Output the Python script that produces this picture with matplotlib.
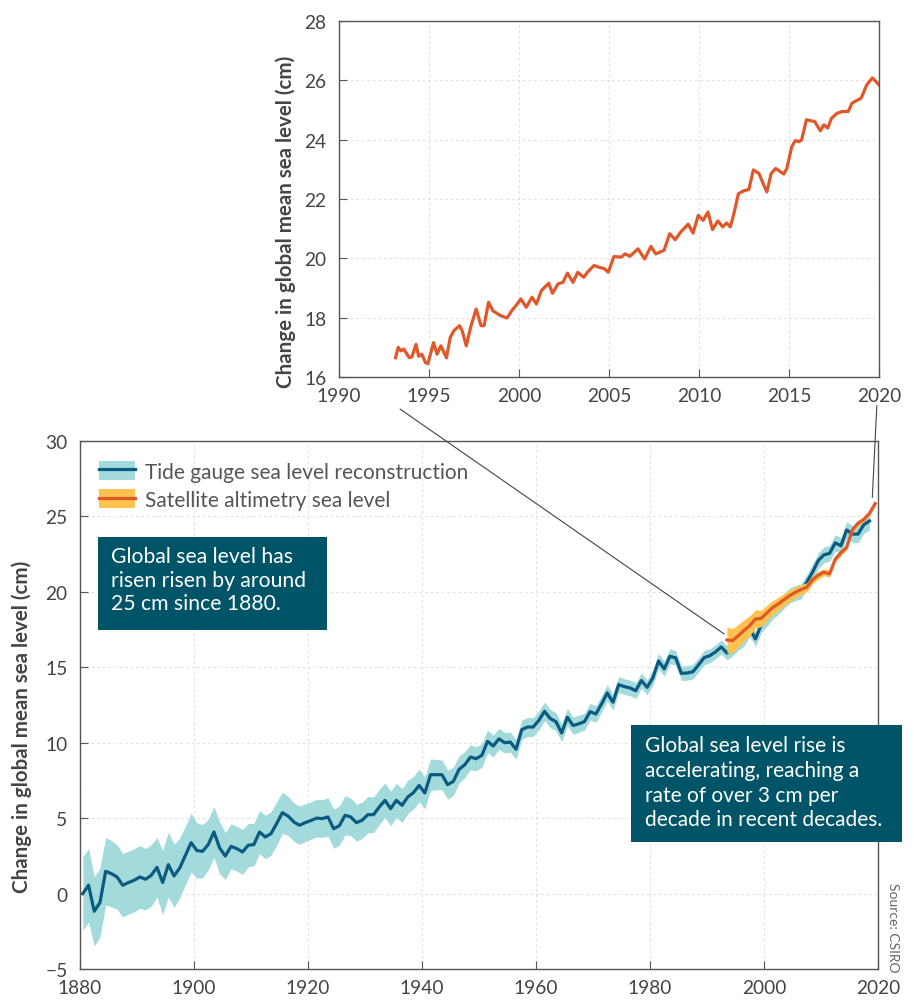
import numpy as np
import matplotlib
matplotlib.use("Agg")
import matplotlib.pyplot as plt
from matplotlib.patches import Patch, Rectangle, ConnectionPatch
from matplotlib.lines import Line2D

plt.rcParams['font.family'] = ['Lato', 'DejaVu Sans']

# tide gauge reconstruction, annual means (cm), 1880-2018
tide_years = np.arange(1880, 2019)
tide_level = [
    0.0, 0.55, -1.17, -0.6, 1.48, 1.32, 1.1, 0.55, 0.73, 0.88,
    1.1, 0.95, 1.21, 1.74, 0.73, 1.92, 1.17, 1.7, 2.54, 3.38,
    2.85, 2.8, 3.25, 4.08, 3.02, 2.49, 3.13, 2.98, 2.76, 3.2,
    3.25, 4.08, 3.75, 3.97, 4.64, 5.36, 5.14, 4.75, 4.53, 4.7,
    4.84, 5.0, 4.97, 5.08, 4.3, 4.5, 5.19, 5.08, 4.7, 4.86,
    5.23, 5.23, 5.74, 6.18, 5.63, 6.18, 5.85, 6.4, 6.69, 7.17,
    6.67, 7.88, 7.88, 7.88, 7.22, 7.44, 8.23, 8.54, 9.05, 8.94,
    9.16, 10.09, 9.78, 10.26, 10.0, 10.04, 9.56, 10.86, 11.04, 11.04,
    11.48, 12.08, 11.6, 11.4, 10.65, 11.69, 11.14, 11.25, 11.4, 12.06,
    11.9, 12.57, 13.3, 12.68, 13.85, 13.72, 13.63, 13.45, 14.12, 13.67,
    14.3, 15.42, 14.89, 15.73, 15.63, 14.6, 14.62, 14.7, 15.15, 15.64,
    15.77, 16.02, 16.35, 15.95, 16.25, 16.6, 16.9, 17.55, 16.88, 17.8,
    18.2, 18.7, 19.0, 19.4, 19.75, 19.92, 20.03, 20.63, 21.3, 22.06,
    22.45, 22.55, 23.25, 23.06, 24.1, 23.83, 23.83, 24.45, 24.7,
]
# half width of the uncertainty band (cm)
tide_err = [
    2.43, 2.45, 2.3, 2.28, 2.23, 2.2, 2.13, 2.1, 2.08, 2.1,
    2.08, 2.04, 2.04, 1.97, 2.13, 2.15, 2.1, 1.98, 1.93, 1.95,
    1.83, 1.77, 1.67, 1.69, 1.72, 1.55, 1.49, 1.49, 1.49, 1.44,
    1.4, 1.42, 1.44, 1.44, 1.44, 1.36, 1.3, 1.27, 1.27, 1.25,
    1.24, 1.25, 1.25, 1.28, 1.3, 1.3, 1.3, 1.25, 1.22, 1.2,
    1.2, 1.18, 1.16, 1.15, 1.15, 1.13, 1.12, 1.1, 1.08, 1.07,
    1.05, 1.05, 1.0, 0.98, 0.96, 0.94, 0.9, 0.86, 0.83, 0.8,
    0.78, 0.75, 0.72, 0.7, 0.68, 0.66, 0.65, 0.64, 0.63, 0.62,
    0.62, 0.62, 0.6, 0.6, 0.6, 0.58, 0.58, 0.57, 0.56, 0.55,
    0.55, 0.54, 0.54, 0.53, 0.53, 0.52, 0.52, 0.52, 0.5, 0.5,
    0.5, 0.5, 0.5, 0.5, 0.48, 0.48, 0.48, 0.48, 0.48, 0.48,
    0.46, 0.46, 0.46, 0.46, 0.48, 0.48, 0.5, 0.5, 0.5, 0.5,
    0.5, 0.5, 0.5, 0.5, 0.5, 0.5, 0.5, 0.5, 0.52, 0.52,
    0.52, 0.52, 0.54, 0.54, 0.55, 0.56, 0.57, 0.58, 0.6,
]

# satellite altimetry, annual means (cm), 1993-2019
sat_years = np.arange(1993, 2020)
sat_level = [
    16.81, 16.77, 17.1, 17.45, 17.76, 18.2, 18.24, 18.6, 18.95, 19.2,
    19.48, 19.75, 19.97, 20.15, 20.3, 20.8, 21.1, 21.3, 21.2, 22.17,
    22.6, 22.95, 24.1, 24.55, 24.8, 25.2, 25.85,
]
sat_err = [
    0.85, 0.8, 0.75, 0.7, 0.65, 0.6, 0.55, 0.5, 0.47, 0.44,
    0.41, 0.38, 0.35, 0.32, 0.3, 0.28, 0.26, 0.24, 0.22, 0.2,
    0.19, 0.18, 0.17, 0.16, 0.15, 0.15, 0.15,
]

# satellite altimetry, sub-annual series for the inset
alt_time = [
    1993.14, 1993.29, 1993.43, 1993.6, 1993.9, 1994.05, 1994.28, 1994.42, 1994.6, 1994.8,
    1994.94, 1995.25, 1995.45, 1995.66, 1995.97, 1996.18, 1996.38, 1996.7, 1996.84, 1997.07,
    1997.31, 1997.62, 1997.89, 1998.06, 1998.31, 1998.55, 1998.97, 1999.34, 1999.59, 1999.9,
    2000.1, 2000.4, 2000.72, 2000.97, 2001.24, 2001.65, 2001.86, 2002.17, 2002.44, 2002.69,
    2003.0, 2003.26, 2003.6, 2003.8, 2004.17, 2004.44, 2004.75, 2004.96, 2005.27, 2005.68,
    2005.89, 2006.16, 2006.61, 2006.98, 2007.33, 2007.6, 2008.06, 2008.37, 2008.68, 2008.99,
    2009.4, 2009.67, 2009.96, 2010.23, 2010.5, 2010.75, 2011.05, 2011.32, 2011.53, 2011.74,
    2011.94, 2012.19, 2012.5, 2012.77, 2013.02, 2013.33, 2013.6, 2013.77, 2014.01, 2014.26,
    2014.71, 2014.88, 2015.15, 2015.35, 2015.54, 2015.7, 2015.97, 2016.43, 2016.74, 2016.94,
    2017.15, 2017.36, 2017.67, 2017.98, 2018.29, 2018.5, 2018.76, 2019.01, 2019.32, 2019.63,
    2020.0,
]
alt_level = [
    16.65, 17.0, 16.88, 16.94, 16.65, 16.68, 17.1, 16.7, 16.77, 16.49,
    16.45, 17.16, 16.77, 17.05, 16.65, 17.33, 17.56, 17.73, 17.56, 17.05,
    17.67, 18.29, 17.73, 17.73, 18.52, 18.23, 18.07, 17.99, 18.23, 18.46,
    18.63, 18.35, 18.69, 18.46, 18.91, 19.16, 18.82, 19.14, 19.19, 19.5,
    19.19, 19.53, 19.36, 19.53, 19.76, 19.7, 19.65, 19.53, 20.06, 20.04,
    20.15, 20.07, 20.32, 19.98, 20.4, 20.15, 20.27, 20.83, 20.63, 20.89,
    21.15, 20.85, 21.45, 21.28, 21.56, 20.97, 21.26, 21.06, 21.19, 21.06,
    21.51, 22.18, 22.28, 22.32, 22.98, 22.86, 22.47, 22.24, 22.86, 23.03,
    22.84, 23.03, 23.76, 23.97, 23.93, 23.99, 24.67, 24.61, 24.3, 24.5,
    24.39, 24.72, 24.89, 24.95, 24.95, 25.23, 25.32, 25.4, 25.85, 26.08,
    25.85,
]

main_xticks = [1880, 1900, 1920, 1940, 1960, 1980, 2000, 2020]
main_yticks = [-5, 0, 5, 10, 15, 20, 25, 30]
inset_xticks = [1990, 1995, 2000, 2005, 2010, 2015, 2020]
inset_yticks = [16, 18, 20, 22, 24, 26, 28]

ylabel = "Change in global mean sea level (cm)"
note1 = "Global sea level has\nrisen risen by around\n25 cm since 1880."
note2 = "Global sea level rise is\naccelerating, reaching a\nrate of over 3 cm per\ndecade in recent decades."

tide_band = "#a3dadc"
tide_line = "#0b5a80"
sat_band = "#ffc34d"
sat_line = "#e0572a"
box_col = "#005468"
spine_col = "#555555"
text_col = "#444444"

fig = plt.figure(figsize=(9.14, 10.03), dpi=100)
ax = fig.add_axes([80/914, 1-970/1003, 798/914, 528/1003])
axin = fig.add_axes([339/914, 1-378/1003, 540/914, 356/1003])


def style(a):
    for s in a.spines.values():
        s.set_color(spine_col)
        s.set_linewidth(1.0)
    a.tick_params(direction="in", length=6, color=spine_col, labelcolor=text_col,
                  labelsize=13.8, pad=7)
    a.tick_params(axis="y", pad=9)
    a.grid(True, color="#e2e2e2", linestyle=(0, (2.5, 2.5)), linewidth=0.8)
    a.set_axisbelow(True)
    a.set_ylabel(ylabel, fontsize=14.8, fontweight="bold", color=text_col)


# main chart
tx = tide_years + 0.5
tl = np.array(tide_level)
te = np.array(tide_err)
sx = sat_years + 0.5
sl = np.array(sat_level)
se = np.array(sat_err)

ax.fill_between(tx, tl - te, tl + te, color=tide_band, lw=0, zorder=2)
ax.plot(tx, tl, color=tide_line, lw=2.3, zorder=3)
ax.fill_between(sx, sl - se, sl + se, color=sat_band, lw=0, zorder=4)
ax.plot(sx, sl, color=sat_line, lw=2.3, zorder=5)
ax.set_xlim(1880, 2020)
ax.set_ylim(-5, 30)
ax.set_xticks(main_xticks)
ax.set_yticks(main_yticks)
style(ax)
ax.yaxis.set_label_coords(-0.06, 0.46)

h_tide = (Patch(facecolor=tide_band, edgecolor="none"), Line2D([], [], color=tide_line, lw=2.3))
h_sat = (Patch(facecolor=sat_band, edgecolor="none"), Line2D([], [], color=sat_line, lw=2.3))
leg = ax.legend([h_tide, h_sat], ["Tide gauge sea level reconstruction", "Satellite altimetry sea level"],
                loc="upper left", bbox_to_anchor=(0.0238, 0.962), frameon=False, fontsize=15,
                borderaxespad=0, borderpad=0,
                handlelength=1.73, handleheight=1.0, handletextpad=0.48, labelspacing=0.38)
for t in leg.get_texts():
    t.set_color("#555555")

# inset
axin.plot(alt_time, alt_level, color=sat_line, lw=2.3)
axin.set_xlim(1990, 2020)
axin.set_ylim(16, 28)
axin.set_xticks(inset_xticks)
axin.set_yticks(inset_yticks)
style(axin)
axin.yaxis.set_label_coords(-0.079, 0.438)

# connectors from the inset to the main chart
for fx, fy, yr, lv in [(0.113, -0.09, sat_years[0], sl[0] + 0.4),
                       (0.996, -0.08, sat_years[-1], sl[-1] + 0.4)]:
    con = ConnectionPatch(xyA=(fx, fy), coordsA=axin.transAxes, xyB=(yr, lv), coordsB=ax.transData,
                          color="#444444", lw=0.8)
    fig.add_artist(con)

# note boxes
fig.add_artist(Rectangle((98/914, 1-631/1003), 229/914, 93/1003, transform=fig.transFigure,
                         facecolor=box_col, edgecolor="none"))
fig.text(111/914, 1-547/1003, note1, color="white", fontsize=15.2, va="top", ha="left",
         linespacing=1.22)
fig.add_artist(Rectangle((631/914, 1-843/1003), 271/914, 117/1003, transform=fig.transFigure,
                         facecolor=box_col, edgecolor="none"))
fig.text(645/914, 1-736/1003, note2, color="white", fontsize=15.0, va="top", ha="left",
         linespacing=1.3)

fig.text(893/914, 1-928/1003, "Source: CSIRO", rotation=270, color="#666666", fontsize=10,
         ha="center", va="center")

fig.savefig("out.png", dpi=100)
